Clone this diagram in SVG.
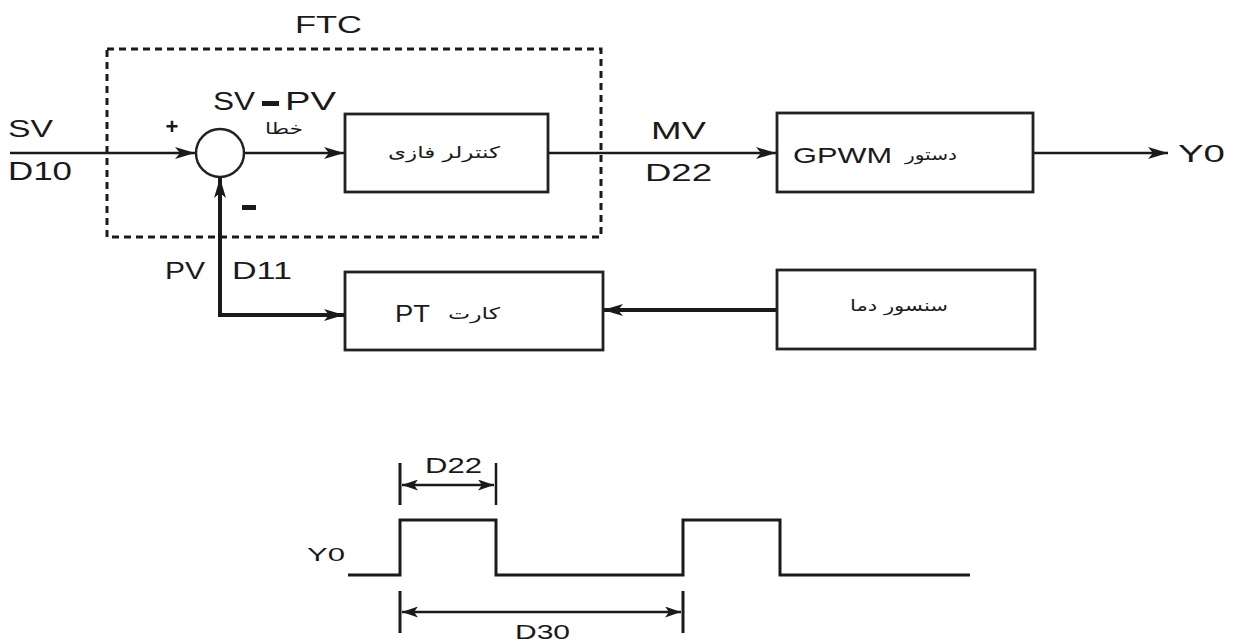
<svg xmlns="http://www.w3.org/2000/svg" width="1238" height="641" viewBox="0 0 1238 641">
<style>
.box{fill:#fff;stroke:#222;stroke-width:2.8}
.ln{fill:none;stroke:#1a1a1a;stroke-width:2.5}
.thk{fill:none;stroke:#1a1a1a;stroke-width:4}
.wave{fill:none;stroke:#1a1a1a;stroke-width:3}
.dim{stroke:#1a1a1a;stroke-width:2.5}
.t{font-family:"Liberation Sans",Arial,sans-serif;fill:#1a1a1a}
.fa{font-family:"DejaVu Sans","Noto Sans",sans-serif;fill:#1a1a1a;font-size:16px}
</style>
<defs>
<marker id="ah" viewBox="0 0 20 12" refX="20" refY="6" markerWidth="20" markerHeight="12" markerUnits="userSpaceOnUse" orient="auto">
<path d="M0,0 L20,6 L0,12 L5,6 z" fill="#1a1a1a"/>
</marker>
<marker id="as" viewBox="0 0 16 11" refX="16" refY="5.5" markerWidth="16" markerHeight="11" markerUnits="userSpaceOnUse" orient="auto-start-reverse">
<path d="M0,0 L16,5.5 L0,11 L4,5.5 z" fill="#1a1a1a"/>
</marker>
</defs>
<rect width="1238" height="641" fill="#fff"/>

<g id="ftc">
<rect x="107" y="49" width="494" height="188" fill="none" stroke="#1a1a1a" stroke-width="3" stroke-dasharray="7,5"/>
<text class="t" x="295" y="33" font-size="24" textLength="67" lengthAdjust="spacingAndGlyphs">FTC</text>
</g>

<g id="connectors">
<line class="ln" x1="10" y1="153" x2="195" y2="153" marker-end="url(#ah)"/>
<line class="ln" x1="244" y1="153" x2="344" y2="153" marker-end="url(#ah)"/>
<line class="ln" x1="548" y1="153" x2="776" y2="153" marker-end="url(#ah)"/>
<line class="ln" x1="1033" y1="153" x2="1168" y2="153" marker-end="url(#ah)"/>
<path class="thk" d="M218,315 L344,315" marker-end="url(#ah)"/>
<line class="thk" x1="220" y1="317" x2="220" y2="178" marker-end="url(#ah)"/>
<line class="thk" x1="776" y1="310" x2="603" y2="310" marker-end="url(#ah)"/>
</g>

<g id="sum">
<circle cx="220" cy="153" r="24" fill="#fff" stroke="#222" stroke-width="2.5"/>
<text class="t" x="172" y="134" font-size="22" text-anchor="middle" font-weight="bold">+</text>
<rect x="242" y="205" width="14" height="5" fill="#1a1a1a"/>
</g>

<g id="labels">
<text class="t" x="8" y="137" font-size="24" textLength="45" lengthAdjust="spacingAndGlyphs">SV</text>
<text class="t" x="8" y="180" font-size="25" textLength="64" lengthAdjust="spacingAndGlyphs">D10</text>
<text class="t" x="213" y="110" font-size="25" textLength="42" lengthAdjust="spacingAndGlyphs">SV</text>
<rect x="262" y="101" width="17" height="5" fill="#1a1a1a"/>
<text class="t" x="285" y="110" font-size="25" textLength="51" lengthAdjust="spacingAndGlyphs">PV</text>
<text class="fa" x="265" y="134" textLength="38" lengthAdjust="spacingAndGlyphs">خطا</text>
<text class="t" x="651" y="139" font-size="24" textLength="55" lengthAdjust="spacingAndGlyphs">MV</text>
<text class="t" x="645" y="181" font-size="24" textLength="67" lengthAdjust="spacingAndGlyphs">D22</text>
<text class="t" x="1178" y="162" font-size="23" textLength="47" lengthAdjust="spacingAndGlyphs">Y0</text>
<text class="t" x="165" y="279" font-size="24" textLength="40" lengthAdjust="spacingAndGlyphs">PV</text>
<text class="t" x="232" y="279" font-size="24" textLength="60" lengthAdjust="spacingAndGlyphs">D11</text>
</g>

<g id="controller">
<rect class="box" x="345" y="114" width="203" height="78"/>
<text class="fa" x="388" y="158" textLength="112" lengthAdjust="spacingAndGlyphs">کنترلر فازی</text>
</g>

<g id="gpwm">
<rect class="box" x="777" y="113" width="256" height="79"/>
<text class="t" x="793" y="163" font-size="22" textLength="99" lengthAdjust="spacingAndGlyphs">GPWM</text>
<text class="fa" x="905" y="160" textLength="52" lengthAdjust="spacingAndGlyphs">دستور</text>
</g>

<g id="ptcard">
<rect class="box" x="345" y="272" width="258" height="78"/>
<text class="t" x="395" y="322" font-size="23" textLength="35" lengthAdjust="spacingAndGlyphs">PT</text>
<text class="fa" x="448" y="319" textLength="52" lengthAdjust="spacingAndGlyphs">کارت</text>
</g>

<g id="sensor">
<rect class="box" x="777" y="270" width="258" height="79"/>
<text class="fa" x="850" y="311" textLength="98" lengthAdjust="spacingAndGlyphs">سنسور دما</text>
</g>

<g id="waveform">
<path class="wave" d="M348,575 L400,575 L400,520 L496,520 L496,575 L683,575 L683,520 L780,520 L780,575 L970,575"/>
<text class="t" x="307" y="561" font-size="18" textLength="38" lengthAdjust="spacingAndGlyphs">Y0</text>
<line x1="400" y1="463" x2="400" y2="505" stroke="#1a1a1a" stroke-width="3"/>
<line x1="496" y1="463" x2="496" y2="505" stroke="#1a1a1a" stroke-width="2.5"/>
<line class="dim" x1="402" y1="485" x2="494" y2="485" marker-start="url(#as)" marker-end="url(#as)"/>
<text class="t" x="425" y="473" font-size="22" textLength="57" lengthAdjust="spacingAndGlyphs">D22</text>
<line x1="400" y1="591" x2="400" y2="633" stroke="#1a1a1a" stroke-width="3"/>
<line x1="683" y1="591" x2="683" y2="633" stroke="#1a1a1a" stroke-width="3"/>
<line class="dim" x1="402" y1="612" x2="681" y2="612" marker-start="url(#as)" marker-end="url(#as)"/>
<text class="t" x="515" y="639" font-size="21" textLength="55" lengthAdjust="spacingAndGlyphs">D30</text>
</g>
</svg>
